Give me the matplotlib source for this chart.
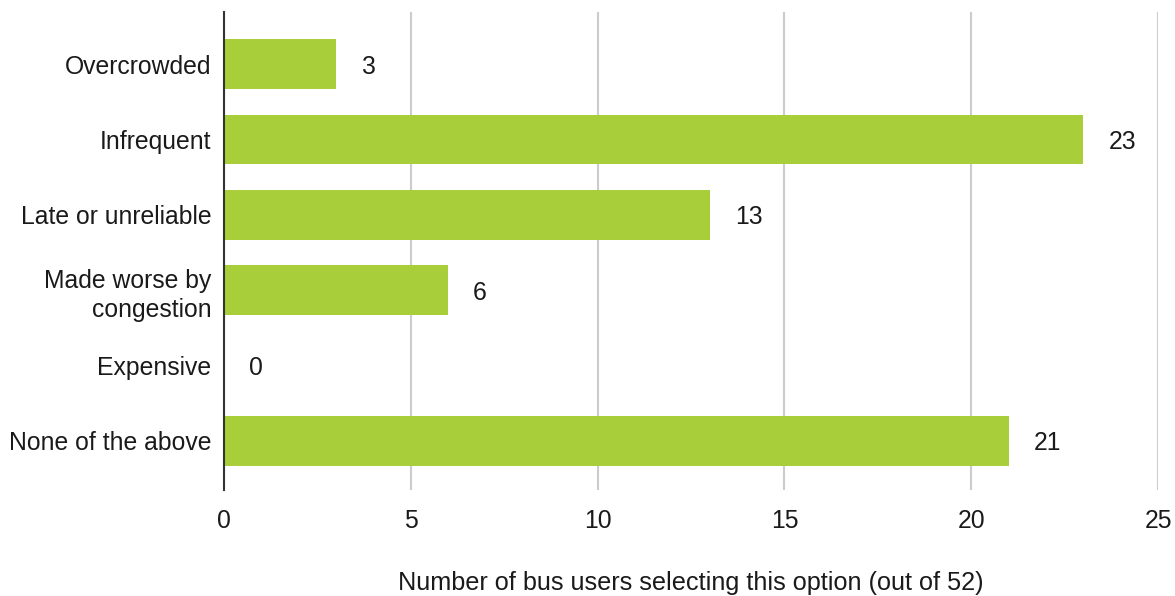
import matplotlib
matplotlib.use("Agg")
import matplotlib.pyplot as plt

categories = ["Overcrowded", "Infrequent", "Late or unreliable", "Made worse by\ncongestion", "Expensive", "None of the above"]
values = [3, 23, 13, 6, 0, 21]
xticks = [0, 5, 10, 15, 20, 25]
xlabel = "Number of bus users selecting this option (out of 52)"

plt.rcParams['font.family'] = ['Liberation Sans', 'DejaVu Sans']
FS = 17.8

fig = plt.figure(figsize=(11.75, 5.96), dpi=100)
ax = fig.add_axes([224/1175, 106/596, (1158-224)/1175, (490-12)/596])

y = list(range(len(categories)))
ax.barh(y, values, height=0.66, color="#a8cf3a", zorder=3)
for yi, v in zip(y, values):
    ax.annotate(str(v), (v, yi), xytext=(25, 0), textcoords="offset pixels",
                va="center_baseline", ha="left", fontsize=FS, color="#1a1a1a")

ax.set_ylim(len(categories) - 0.35, -0.69)
ax.set_xlim(0, 25)
ax.set_yticks(y)
ax.set_yticklabels(categories, fontsize=FS, color="#1a1a1a", linespacing=1.3)
ax.set_xticks(xticks)
ax.set_xticklabels([str(t) for t in xticks], fontsize=FS, color="#1a1a1a")
ax.tick_params(axis="both", length=0)
ax.tick_params(axis="y", pad=9)
ax.tick_params(axis="x", pad=14)
ax.grid(axis="x", color="#cccccc", linewidth=1.5, zorder=0)
for s in ["top", "right", "bottom"]:
    ax.spines[s].set_visible(False)
ax.spines["left"].set_color("#333333")
ax.spines["left"].set_linewidth(1.5)
ax.spines["left"].set_zorder(4)
ax.set_xlabel(xlabel, fontsize=18.2, color="#1a1a1a", labelpad=27)

fig.savefig("out.png", dpi=100)
